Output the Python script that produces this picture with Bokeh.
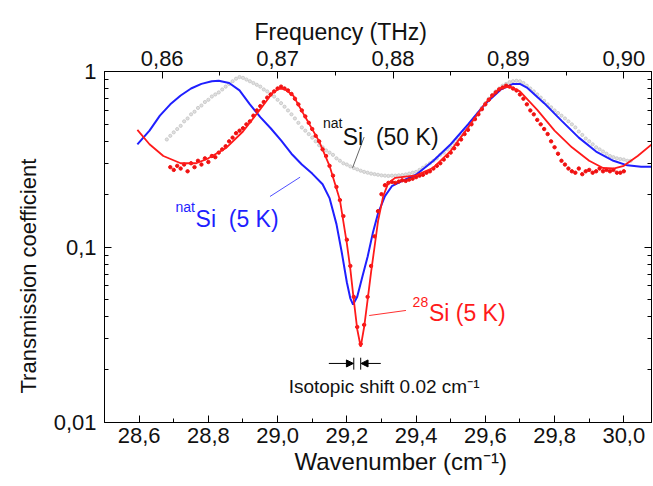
from bokeh.plotting import figure
from bokeh.models import (Range1d, LinearAxis, LogAxis, FixedTicker, CustomJSTickFormatter,
                          Label, Arrow, NormalHead, Title)
from bokeh.embed import file_html
from bokeh.resources import INLINE

# ---------------- data ----------------
x_ticks = [28.6, 28.8, 29.0, 29.2, 29.4, 29.6, 29.8, 30.0]
x_tick_labels = ["28,6", "28,8", "29,0", "29,2", "29,4", "29,6", "29,8", "30,0"]
freq_ticks = [0.86, 0.87, 0.88, 0.89, 0.90]
freq_tick_labels = ["0,86", "0,87", "0,88", "0,89", "0,90"]
y_ticks = [0.01, 0.1, 1.0]
y_tick_labels = ["0,01", "0,1", "1"]
THZ_PER_CM = 0.03  # top axis: frequency = 0.03 THz per cm^-1

# natSi (5 K) fit, blue line
blue_x = [28.595, 28.63, 28.66, 28.69, 28.72, 28.75, 28.78, 28.81, 28.83, 28.86,
          28.89, 28.92, 28.95, 28.98, 29.01, 29.04, 29.07, 29.10, 29.13, 29.15,
          29.17, 29.185, 29.20, 29.21, 29.218, 29.23, 29.245, 29.26, 29.275, 29.29,
          29.31, 29.33, 29.36, 29.40, 29.45, 29.50, 29.55, 29.60, 29.645, 29.68,
          29.70, 29.72, 29.77, 29.82, 29.87, 29.92, 29.97, 30.01, 30.05, 30.085]
blue_y = [0.384, 0.46, 0.56, 0.65, 0.73, 0.80, 0.85, 0.88, 0.885, 0.86,
          0.78, 0.65, 0.55, 0.475, 0.405, 0.34, 0.295, 0.262, 0.228, 0.19,
          0.135, 0.094, 0.063, 0.051, 0.047, 0.052, 0.068, 0.088, 0.12, 0.155,
          0.195, 0.222, 0.238, 0.258, 0.31, 0.385, 0.50, 0.655, 0.79, 0.85,
          0.85, 0.81, 0.66, 0.525, 0.42, 0.35, 0.31, 0.292, 0.287, 0.287]

# 28Si (5 K) fit, red line
red_x = [28.595, 28.63, 28.67, 28.72, 28.765, 28.80, 28.85, 28.90, 28.95, 28.985,
         29.005, 29.02, 29.045, 29.08, 29.12, 29.15, 29.18, 29.20, 29.21, 29.22,
         29.23, 29.24, 29.25, 29.26, 29.27, 29.28, 29.29, 29.305, 29.32, 29.34,
         29.37, 29.40, 29.45, 29.50, 29.55, 29.60, 29.64, 29.67, 29.70, 29.75,
         29.80, 29.85, 29.90, 29.94, 29.97, 30.00, 30.04, 30.088]
red_y = [0.465, 0.385, 0.33, 0.30, 0.30, 0.32, 0.365, 0.455, 0.61, 0.755,
         0.80, 0.795, 0.73, 0.55, 0.40, 0.29, 0.185, 0.105, 0.075, 0.05,
         0.034, 0.027, 0.035, 0.05, 0.072, 0.10, 0.14, 0.195, 0.232, 0.248,
         0.252, 0.256, 0.283, 0.353, 0.48, 0.66, 0.80, 0.82, 0.77, 0.605,
         0.46, 0.37, 0.31, 0.282, 0.28, 0.29, 0.33, 0.395]

# 28Si (5 K) measured points, red dots
red_dot_x = [28.69, 28.70, 28.71, 28.72, 28.73, 28.74, 28.75, 28.76, 28.77, 28.78,
             28.79, 28.80, 28.81, 28.82, 28.83, 28.84, 28.85, 28.86, 28.87, 28.88,
             28.89, 28.90, 28.91, 28.92, 28.93, 28.94, 28.95, 28.96, 28.97, 28.98,
             28.99, 29.00, 29.01, 29.02, 29.03, 29.04, 29.05, 29.06, 29.07, 29.08,
             29.09, 29.10, 29.11, 29.12, 29.13, 29.14, 29.15, 29.16, 29.17, 29.18,
             29.19, 29.20, 29.21, 29.22, 29.23, 29.24, 29.25, 29.26, 29.27, 29.28,
             29.29, 29.30, 29.31, 29.32, 29.33, 29.34, 29.35, 29.36, 29.37, 29.38,
             29.39, 29.40, 29.41, 29.42, 29.43, 29.44, 29.45, 29.46, 29.47, 29.48,
             29.49, 29.50, 29.51, 29.52, 29.53, 29.54, 29.55, 29.56, 29.57, 29.58,
             29.59, 29.60, 29.61, 29.62, 29.63, 29.64, 29.65, 29.66, 29.67, 29.68,
             29.69, 29.70, 29.71, 29.72, 29.73, 29.74, 29.75, 29.76, 29.77, 29.78,
             29.79, 29.80, 29.81, 29.82, 29.83, 29.84, 29.85, 29.86, 29.87, 29.88,
             29.89, 29.90, 29.91, 29.92, 29.93, 29.94, 29.95, 29.96, 29.97, 29.98,
             29.99, 30.00]
red_dot_y = [0.285, 0.275, 0.29, 0.28, 0.295, 0.27, 0.30, 0.285, 0.31, 0.295,
             0.32, 0.305, 0.33, 0.325, 0.345, 0.36, 0.375, 0.40, 0.42, 0.445,
             0.46, 0.475, 0.50, 0.52, 0.56, 0.60, 0.635, 0.67, 0.71, 0.74,
             0.77, 0.80, 0.82, 0.80, 0.78, 0.745, 0.70, 0.65, 0.60, 0.555,
             0.51, 0.47, 0.43, 0.40, 0.36, 0.33, 0.29, 0.255, 0.22, 0.185,
             0.15, 0.11, 0.078, 0.052, 0.035, 0.028, 0.036, 0.052, 0.078, 0.115,
             0.16, 0.20, 0.225, 0.232, 0.235, 0.232, 0.236, 0.24, 0.238, 0.242,
             0.245, 0.25, 0.255, 0.258, 0.265, 0.27, 0.28, 0.29, 0.30, 0.315,
             0.33, 0.345, 0.365, 0.385, 0.41, 0.44, 0.465, 0.50, 0.535, 0.57,
             0.61, 0.65, 0.69, 0.73, 0.76, 0.79, 0.81, 0.83, 0.82, 0.80,
             0.78, 0.74, 0.70, 0.65, 0.60, 0.57, 0.53, 0.50, 0.47, 0.44,
             0.40, 0.37, 0.34, 0.31, 0.295, 0.28, 0.27, 0.265, 0.28, 0.26,
             0.27, 0.275, 0.265, 0.27, 0.28, 0.27, 0.275, 0.27, 0.275, 0.265,
             0.265, 0.27]

# natSi (50 K) measured points, grey dots
grey_x = [28.68, 28.69, 28.70, 28.71, 28.72, 28.73, 28.74, 28.75, 28.76, 28.77,
          28.78, 28.79, 28.80, 28.81, 28.82, 28.83, 28.84, 28.85, 28.86, 28.87,
          28.88, 28.89, 28.90, 28.91, 28.92, 28.93, 28.94, 28.95, 28.96, 28.97,
          28.98, 28.99, 29.00, 29.01, 29.02, 29.03, 29.04, 29.05, 29.06, 29.07,
          29.08, 29.09, 29.10, 29.11, 29.12, 29.13, 29.14, 29.15, 29.16, 29.17,
          29.18, 29.19, 29.20, 29.21, 29.22, 29.23, 29.24, 29.25, 29.26, 29.27,
          29.28, 29.29, 29.30, 29.31, 29.32, 29.33, 29.34, 29.35, 29.36, 29.37,
          29.38, 29.39, 29.40, 29.41, 29.42, 29.43, 29.44, 29.45, 29.46, 29.47,
          29.48, 29.49, 29.50, 29.51, 29.52, 29.53, 29.54, 29.55, 29.56, 29.57,
          29.58, 29.59, 29.60, 29.61, 29.62, 29.63, 29.64, 29.65, 29.66, 29.67,
          29.68, 29.69, 29.70, 29.71, 29.72, 29.73, 29.74, 29.75, 29.76, 29.77,
          29.78, 29.79, 29.80, 29.81, 29.82, 29.83, 29.84, 29.85, 29.86, 29.87,
          29.88, 29.89, 29.90, 29.91, 29.92, 29.93, 29.94, 29.95, 29.96, 29.97,
          29.98, 29.99, 30.00, 30.01, 30.02]
grey_y = [0.41, 0.43, 0.45, 0.47, 0.49, 0.52, 0.54, 0.57, 0.59, 0.62,
          0.64, 0.67, 0.69, 0.72, 0.74, 0.76, 0.79, 0.82, 0.85, 0.88,
          0.91, 0.93, 0.92, 0.90, 0.88, 0.86, 0.84, 0.82, 0.79, 0.77,
          0.74, 0.72, 0.69, 0.66, 0.63, 0.60, 0.57, 0.54, 0.51, 0.48,
          0.46, 0.44, 0.42, 0.40, 0.38, 0.37, 0.355, 0.345, 0.335, 0.32,
          0.31, 0.30, 0.295, 0.288, 0.282, 0.277, 0.272, 0.268, 0.265, 0.262,
          0.26, 0.258, 0.256, 0.255, 0.254, 0.255, 0.255, 0.256, 0.257, 0.259,
          0.262, 0.265, 0.268, 0.275, 0.283, 0.292, 0.30, 0.31, 0.32, 0.335,
          0.345, 0.36, 0.37, 0.39, 0.41, 0.43, 0.46, 0.485, 0.51, 0.545,
          0.58, 0.62, 0.66, 0.70, 0.735, 0.77, 0.80, 0.83, 0.85, 0.87,
          0.88, 0.885, 0.88, 0.86, 0.83, 0.80, 0.77, 0.74, 0.71, 0.68,
          0.65, 0.625, 0.60, 0.58, 0.56, 0.54, 0.52, 0.50, 0.48, 0.455,
          0.435, 0.415, 0.40, 0.385, 0.37, 0.36, 0.35, 0.34, 0.33, 0.325,
          0.32, 0.317, 0.315, 0.31, 0.31]

# ---------------- figure ----------------
FONT = "Liberation Sans"
TXT = "#111111"
X0, X1 = 28.5, 30.08

p = figure(width=653, height=486, x_range=Range1d(X0, X1), y_range=Range1d(0.01, 1.0),
           y_axis_type="log", output_backend="svg", toolbar_location=None,
           min_border_left=104, min_border_right=2, min_border_top=71, min_border_bottom=64,
           x_axis_location=None, y_axis_location=None)
p.xgrid.visible = False
p.ygrid.visible = False
p.outline_line_color = "black"
p.outline_line_width = 1
p.background_fill_color = "white"
p.border_fill_color = "white"
p.extra_x_ranges = {"freq": Range1d(X0 * THZ_PER_CM, X1 * THZ_PER_CM)}

FMT = ("const i = tvals.findIndex(t => Math.abs(t - tick) < 1e-6);"
       "return i >= 0 ? tlabels[i] : '';")


def fmt(vals, labels):
    return CustomJSTickFormatter(args=dict(tvals=vals, tlabels=labels), code=FMT)


def style(ax, labels_visible=True):
    ax.axis_line_color = "black"
    ax.major_tick_in = 7
    ax.major_tick_out = 0
    ax.minor_tick_in = 4
    ax.minor_tick_out = 0
    ax.major_tick_line_color = "black"
    ax.minor_tick_line_color = "black"
    ax.major_label_text_font = FONT
    ax.major_label_text_font_size = "22px" if labels_visible else "0px"
    ax.major_label_text_color = TXT


y_minor = [m * d for d in (0.01, 0.1) for m in range(2, 10)]
x_minor = [28.7, 28.9, 29.1, 29.3, 29.5, 29.7, 29.9]
f_minor = [0.865, 0.875, 0.885, 0.895]

bottom = LinearAxis(ticker=FixedTicker(ticks=x_ticks, minor_ticks=x_minor),
                    formatter=fmt(x_ticks, x_tick_labels))
style(bottom)
bottom.major_label_standoff = 5
p.add_layout(bottom, "below")

top = LinearAxis(x_range_name="freq", ticker=FixedTicker(ticks=freq_ticks, minor_ticks=f_minor),
                 formatter=fmt(freq_ticks, freq_tick_labels))
style(top)
top.major_label_standoff = 6
p.add_layout(top, "above")

left = LogAxis(ticker=FixedTicker(ticks=y_ticks, minor_ticks=y_minor),
               formatter=fmt(y_ticks, y_tick_labels))
style(left)
left.major_label_standoff = 8
p.add_layout(left, "left")

right = LogAxis(ticker=FixedTicker(ticks=y_ticks, minor_ticks=y_minor),
                formatter=fmt(y_ticks, ["", "", ""]))
style(right, labels_visible=False)
right.major_label_standoff = 0
p.add_layout(right, "right")


# axis titles as side titles, positioned off-centre as in the original
def side_title(text, loc, offset, standoff, size="23px"):
    t = Title(text=text, align="left", offset=offset, standoff=standoff,
              text_font=FONT, text_font_size=size, text_font_style="normal",
              text_color=TXT)
    p.add_layout(t, loc)


side_title("Wavenumber (cm⁻¹)", "below", 190, 0, "24px")
side_title("Frequency (THz)", "above", 150, 6)
side_title("Transmission coefficient", "left", 29, 20, "22px")

# ---------------- series ----------------
p.scatter(grey_x, grey_y, marker="circle", size=3.2, fill_color="#e0e0e0",
          line_color="#c4c4c4", line_width=0.8)
p.line(blue_x, blue_y, line_color="#1f1fff", line_width=2)
p.scatter(red_dot_x, red_dot_y, marker="circle", size=3.4, fill_color="#f01010",
          line_color="#f01010")
p.line(red_x, red_y, line_color="#ff1a1a", line_width=1.8)


# ---------------- annotations ----------------
def lab(x, y, text, size, color):
    p.add_layout(Label(x=x, y=y, text=text, text_font=FONT, text_font_size=size,
                       text_color=color, text_baseline="alphabetic", text_align="left"))


# natSi (50 K)
lab(29.131, 0.506, "nat", "14px", TXT)
lab(29.188, 0.421, "Si\u00a0\u00a0(50 K)", "23px", TXT)
p.line([29.250, 29.2165], [0.423, 0.2826], line_color="#666666", line_width=1)

# natSi (5 K)
lab(28.705, 0.168, "nat", "14px", "#1f1fff")
lab(28.763, 0.145, "Si\u00a0\u00a0(5 K)", "23px", "#1f1fff")
p.line([28.978, 29.065], [0.194, 0.250], line_color="#5050ff", line_width=1)

# 28Si (5 K)
lab(29.390, 0.0489, "28", "14px", "#ff1a1a")
lab(29.437, 0.0418, "Si (5 K)", "23px", "#ff1a1a")
p.line([29.2645, 29.3707], [0.0407, 0.0435], line_color="#ff3030", line_width=1)

# isotopic shift marker
p.segment(x0=[29.22, 29.24], y0=[0.0200, 0.0200], x1=[29.22, 29.24], y1=[0.0234, 0.0234],
          line_color="black", line_width=1)
p.add_layout(Arrow(end=NormalHead(size=7, fill_color="black", line_color="black"),
                   x_start=29.148, y_start=0.0217, x_end=29.219, y_end=0.0217,
                   line_color="black", line_width=1))
p.add_layout(Arrow(end=NormalHead(size=7, fill_color="black", line_color="black"),
                   x_start=29.298, y_start=0.0217, x_end=29.241, y_end=0.0217,
                   line_color="black", line_width=1))
lab(29.032, 0.0160, "Isotopic shift 0.02 cm⁻¹", "19px", TXT)

open("out.html", "w").write(file_html(p, INLINE))
